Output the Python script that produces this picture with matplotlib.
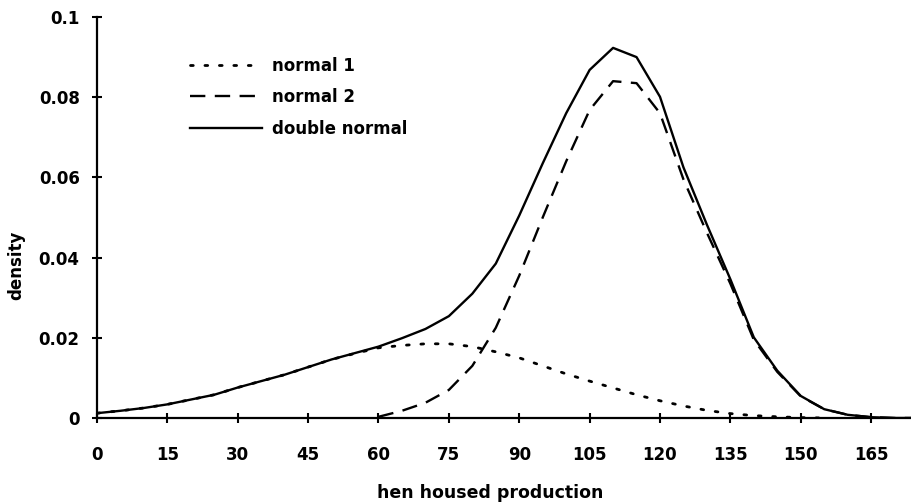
import matplotlib
matplotlib.use("Agg")
import matplotlib.pyplot as plt

# ===============================
# Data (step of 5)
# ===============================
x_all = [0, 5, 10, 15, 20, 25, 30, 35, 40, 45, 50, 55, 60, 65, 70, 75, 80, 85,
         90, 95, 100, 105, 110, 115, 120, 125, 130, 135, 140, 145, 150, 155,
         160, 165, 170, 175]

double_normal = [0.0012, 0.0018, 0.0025, 0.0034, 0.0046, 0.0058, 0.0076, 0.0092,
                 0.0108, 0.0127, 0.0146, 0.0162, 0.0178, 0.0199, 0.0222, 0.0254,
                 0.0310, 0.0385, 0.0505, 0.0635, 0.0760, 0.0868, 0.0923, 0.0900,
                 0.0801, 0.0625, 0.0482, 0.0346, 0.0201, 0.0118, 0.0055, 0.0022,
                 0.0008, 0.0002, 0.0000, 0.0000]

x_n1 = x_all[:32]
normal1 = [0.0012, 0.0018, 0.0025, 0.0034, 0.0046, 0.0058, 0.0076, 0.0092,
           0.0108, 0.0127, 0.0146, 0.0161, 0.0175, 0.0181, 0.0185, 0.0185,
           0.0178, 0.0165, 0.0150, 0.0130, 0.0110, 0.0092, 0.0075, 0.0058,
           0.0043, 0.0030, 0.0019, 0.0011, 0.0006, 0.0003, 0.0001, 0.0000]

x_n2 = x_all[12:]
normal2 = [0.0003, 0.0018, 0.0038, 0.0070, 0.0130, 0.0225, 0.0355, 0.0500,
           0.0640, 0.0768, 0.0840, 0.0835, 0.0760, 0.0595, 0.0462, 0.0335,
           0.0195, 0.0115, 0.0054, 0.0022, 0.0008, 0.0002, 0.0000, 0.0000]

x_ticks = [0, 15, 30, 45, 60, 75, 90, 105, 120, 135, 150, 165]
y_ticks = [0, 0.02, 0.04, 0.06, 0.08, 0.1]
y_tick_labels = ["0", "0.02", "0.04", "0.06", "0.08", "0.1"]

# ===============================
# Figure
# ===============================
plt.rcParams["font.family"] = "DejaVu Sans"
plt.rcParams["font.weight"] = "bold"

fig = plt.figure(figsize=(9.11, 5.03), dpi=100)
ax = fig.add_axes([97 / 911, 1 - 418 / 503, 1 - 97 / 911, (418 - 17) / 503])

lw = 1.7
ax.plot(x_n1, normal1, color="black", lw=2.0, linestyle=(0, (1.0, 4.2)),
        dash_capstyle="round", label="normal 1")
ax.plot(x_n2, normal2, color="black", lw=lw, linestyle=(0, (6.5, 4)),
        label="normal 2")
ax.plot(x_all, double_normal, color="black", lw=lw, label="double normal")

ax.set_xlim(0, 173.5)
ax.set_ylim(0, 0.1)
ax.set_xticks(x_ticks)
ax.set_yticks(y_ticks)
ax.set_yticklabels(y_tick_labels)

for side in ["top", "right"]:
    ax.spines[side].set_visible(False)
for side in ["left", "bottom"]:
    ax.spines[side].set_linewidth(1.6)
ax.spines["left"].set_zorder(5)

ax.tick_params(axis="both", direction="inout", length=7, width=1.5,
               labelsize=12)
ax.tick_params(axis="x", pad=17)
ax.tick_params(axis="y", pad=9)
for lab in ax.get_xticklabels() + ax.get_yticklabels():
    lab.set_fontweight("bold")

ax.set_xlabel("hen housed production", fontsize=12.5, fontweight="bold")
ax.xaxis.set_label_coords((490 - 97) / 814, -(484 - 418) / 401)
ax.set_ylabel("density", fontsize=12, fontweight="bold")
ax.yaxis.set_label_coords(-(97 - 25) / 814, (418 - 265) / 401)

leg = ax.legend(loc="upper left", bbox_to_anchor=((190 - 97) / 814, (418 - 57) / 401),
                frameon=False, fontsize=12, handlelength=4.3, handletextpad=0.6,
                labelspacing=0.8, borderpad=0, borderaxespad=0)
for t in leg.get_texts():
    t.set_fontweight("bold")

fig.savefig("out.png", dpi=100)
